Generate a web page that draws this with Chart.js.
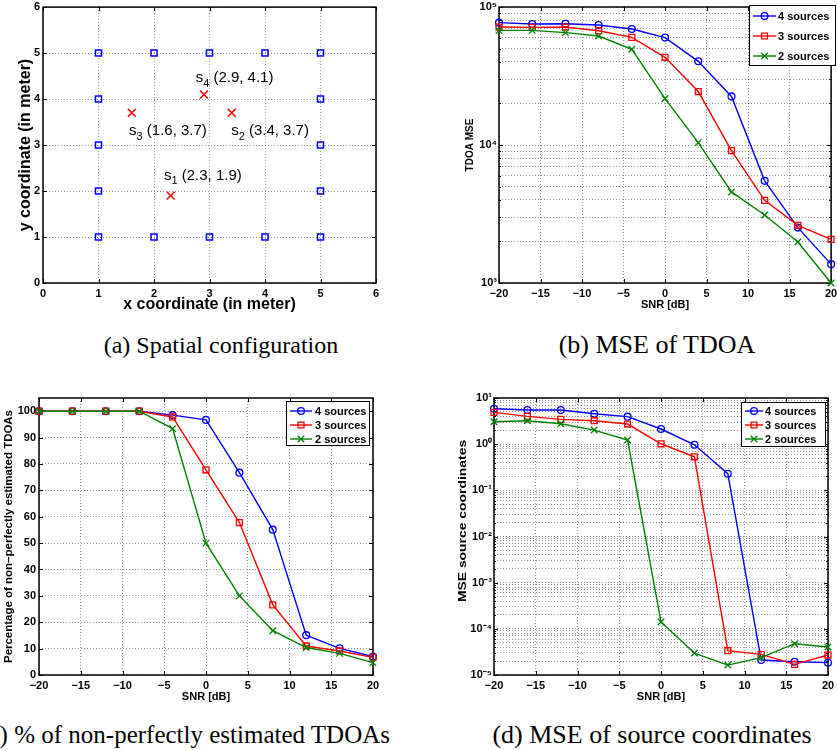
<!DOCTYPE html>
<html><head><meta charset="utf-8">
<script src="https://cdn.jsdelivr.net/npm/chart.js"></script>
<style>
html,body{margin:0;padding:0;background:#fff;}
body{width:837px;height:750px;overflow:hidden;position:relative;}
.pane{position:absolute;}
.cap{position:absolute;font-family:"Liberation Serif","Times New Roman",serif;font-size:25px;white-space:nowrap;color:#000;line-height:30px;height:30px;}
</style></head><body>
<div class="pane" style="left:0;top:0"><canvas id="ca" width="420" height="320"></canvas></div>
<div class="pane" style="left:420px;top:0"><canvas id="cb" width="417" height="320"></canvas></div>
<div class="pane" style="left:0;top:390px"><canvas id="cc" width="420" height="320"></canvas></div>
<div class="pane" style="left:420px;top:390px"><canvas id="cd" width="417" height="320"></canvas></div>
<div class="cap" id="capA" style="left:0;width:442px;text-align:center;top:330px;font-size:24px">(a) Spatial configuration</div>
<div class="cap" id="capB" style="left:420px;width:474px;text-align:center;top:330px;font-size:26px">(b) MSE of TDOA</div>
<div class="cap" id="capC" style="right:447px;text-align:right;top:720px">(c) % of non-perfectly estimated TDOAs</div>
<div class="cap" id="capD" style="left:420px;width:464px;text-align:center;top:720px;font-size:26px">(d) MSE of source coordinates</div>
<script>
// ---------------- data ----------------
const snr = [-20, -16, -12, -8, -4, 0, 4, 8, 12, 16, 20];
const seriesNames = ['4 sources', '3 sources', '2 sources'];

const tdoaMse4 = [77000, 75300, 75700, 74000, 69300, 60000, 40400, 22500, 5500, 2520, 1370];
const tdoaMse3 = [71600, 71200, 71600, 67300, 60300, 43200, 24400, 9100, 3970, 2620, 2070];
const tdoaMse2 = [67700, 67700, 65200, 61600, 49400, 21700, 10400, 4570, 3110, 1980, 1000];

const pct4 = [100, 100, 100, 100, 98.5, 96.7, 76.7, 55.1, 15.1, 10.1, 7.0];
const pct3 = [100, 100, 100, 100, 97.8, 77.8, 57.8, 26.6, 11.0, 9.1, 6.7];
const pct2 = [100, 100, 100, 100, 93.4, 50.0, 30.0, 16.8, 10.4, 8.2, 4.7];

const mse4 = [5.87, 5.49, 5.49, 4.57, 3.94, 2.13, 0.97, 0.229, 2.11e-5, 1.94e-5, 1.85e-5];
const mse3 = [4.89, 4.0, 3.44, 3.22, 2.73, 1.02, 0.533, 3.36e-5, 2.8e-5, 1.7e-5, 2.71e-5];
const mse2 = [3.07, 3.22, 2.77, 2.02, 1.23, 1.41e-4, 2.99e-5, 1.64e-5, 2.37e-5, 4.76e-5, 4.04e-5];

const sensorX = [1, 1, 1, 1, 1, 5, 5, 5, 5, 5, 2, 3, 4, 2, 3, 4];
const sensorY = [1, 2, 3, 4, 5, 1, 2, 3, 4, 5, 1, 1, 1, 5, 5, 5];
const sourceIdx = [1, 2, 3, 4];
const sourceX = [2.3, 3.4, 1.6, 2.9];
const sourceY = [1.9, 3.7, 3.7, 4.1];

const spaceTicks = [0, 1, 2, 3, 4, 5, 6];
const snrTicks = [-20, -15, -10, -5, 0, 5, 10, 15, 20];
const pctTicks = [0, 10, 20, 30, 40, 50, 60, 70, 80, 90, 100];

// ---------------- helpers ----------------
const FONT = '"Liberation Sans", Arial, Helvetica, sans-serif';
const GRID = 'rgba(0,0,0,0.42)';
const SUP = {'0':'⁰','1':'¹','2':'²','3':'³','4':'⁴','5':'⁵','6':'⁶','7':'⁷','8':'⁸','9':'⁹','-':'⁻'};
const minus = v => String(v).replace('-', '\u2212');
function logTickList(e0, e1) {
  const out = [];
  for (let e = e0; e < e1; e++) for (let m = 1; m <= 9; m++) out.push({value: m * Math.pow(10, e), minor: m !== 1});
  out.push({value: Math.pow(10, e1), minor: false});
  return out;
}
function powLabel(v) {
  const e = Math.round(Math.log10(v));
  if (Math.abs(Math.log10(v) - e) > 1e-6) return '';
  return '10' + String(e).split('').map(c => SUP[c]).join('');
}
const fixX = h => s => { s.height = h; s.paddingLeft = 0; s.paddingRight = 0; s.paddingTop = 0; s.paddingBottom = 0; };
const fixY = w => s => { s.width = w; s.paddingLeft = 0; s.paddingRight = 0; s.paddingTop = 0; s.paddingBottom = 0; };

const framePlugin = {
  id: 'frame',
  beforeDatasetsDraw(chart) {
    const {ctx, chartArea: a} = chart;
    const xs = chart.scales.x, ys = chart.scales.y;
    ctx.save();
    ctx.strokeStyle = '#000';
    ctx.lineWidth = 1;
    ctx.beginPath();
    xs.ticks.forEach(t => {
      const p = Math.round(xs.getPixelForValue(t.value)) + 0.5;
      const L = t.minor ? 2 : 4;
      ctx.moveTo(p, a.bottom); ctx.lineTo(p, a.bottom - L);
      ctx.moveTo(p, a.top); ctx.lineTo(p, a.top + L);
    });
    ys.ticks.forEach(t => {
      const p = Math.round(ys.getPixelForValue(t.value)) + 0.5;
      const L = t.minor ? 2 : 4;
      ctx.moveTo(a.left, p); ctx.lineTo(a.left + L, p);
      ctx.moveTo(a.right, p); ctx.lineTo(a.right - L, p);
    });
    ctx.stroke();
    ctx.lineWidth = 1.5;
    ctx.strokeRect(a.left, a.top, a.right - a.left, a.bottom - a.top);
    ctx.restore();
  }
};

const yTitlePlugin = {
  id: 'yTitle',
  afterDraw(chart, args, o) {
    const {ctx, chartArea: a} = chart;
    ctx.save();
    const cy = (o.y !== undefined) ? o.y : (a.top + a.bottom) / 2;
    ctx.translate(o.x, cy);
    ctx.rotate(-Math.PI / 2);
    ctx.scale(o.stretch || 1, 1);
    ctx.font = `bold ${o.size}px ${FONT}`;
    ctx.textAlign = 'center';
    ctx.textBaseline = 'middle';
    ctx.fillStyle = '#000';
    ctx.fillText(o.text, 0, 0);
    ctx.restore();
  }
};

function drawMarker(ctx, style, r, x, y) {
  ctx.beginPath();
  if (style === 'circle') {
    ctx.arc(x, y, r, 0, Math.PI * 2);
  } else if (style === 'rect') {
    const s = r * Math.SQRT1_2;
    ctx.rect(x - s, y - s, 2 * s, 2 * s);
  } else {
    const s = r * Math.SQRT1_2;
    ctx.moveTo(x - s, y - s); ctx.lineTo(x + s, y + s);
    ctx.moveTo(x - s, y + s); ctx.lineTo(x + s, y - s);
  }
  ctx.stroke();
}

const boxLegend = {
  id: 'boxLegend',
  afterDatasetsDraw(chart, args, o) {
    const ctx = chart.ctx;
    ctx.save();
    ctx.fillStyle = '#fff';
    ctx.fillRect(o.x0, o.y0, o.x1 - o.x0, o.y1 - o.y0);
    ctx.strokeStyle = '#000';
    ctx.lineWidth = 1;
    ctx.strokeRect(o.x0 + 0.5, o.y0 + 0.5, o.x1 - o.x0 - 1, o.y1 - o.y0 - 1);
    chart.data.datasets.forEach((d, i) => {
      const y = o.rows[i];
      ctx.strokeStyle = d.borderColor;
      ctx.lineWidth = d.borderWidth;
      ctx.beginPath(); ctx.moveTo(o.l0, y); ctx.lineTo(o.l1, y); ctx.stroke();
      ctx.lineWidth = d.pointBorderWidth;
      drawMarker(ctx, d.pointStyle, d.pointRadius, (o.l0 + o.l1) / 2, y);
      ctx.fillStyle = '#000';
      ctx.font = `bold 11px ${FONT}`;
      ctx.textAlign = 'left';
      ctx.textBaseline = 'middle';
      ctx.fillText(d.label, o.tx, y + 0.5);
    });
    ctx.restore();
  }
};

const srcLabels = {
  id: 'srcLabels',
  afterDatasetsDraw(chart, args, o) {
    const {ctx} = chart;
    const xs = chart.scales.x, ys = chart.scales.y;
    ctx.save();
    ctx.fillStyle = '#000';
    ctx.textBaseline = 'middle';
    ctx.textAlign = 'left';
    sourceX.forEach((sx, i) => {
      const px = xs.getPixelForValue(sx + o.dx[i]);
      const py = ys.getPixelForValue(sourceY[i] + o.dy[i]);
      ctx.font = `15px ${FONT}`;
      ctx.fillText('s', px, py);
      let w = ctx.measureText('s').width;
      ctx.font = `11px ${FONT}`;
      ctx.fillText(String(sourceIdx[i]), px + w, py + 6);
      w += ctx.measureText(String(sourceIdx[i])).width;
      ctx.font = `15px ${FONT}`;
      ctx.fillText(` (${sx.toFixed(1)}, ${sourceY[i].toFixed(1)})`, px + w, py);
    });
    ctx.restore();
  }
};

const tickFont = {family: FONT, weight: 'bold', size: 11};
const STY = [
  {color: '#0000ff', pointStyle: 'circle', r: 3.4},
  {color: '#ff0000', pointStyle: 'rect', r: 4.2},
  {color: '#008000', pointStyle: 'crossRot', r: 4.6}
];
function seriesSets(arrs) {
  return arrs.map((arr, i) => ({
    label: seriesNames[i],
    data: snr.map((x, j) => ({x, y: arr[j]})),
    borderColor: STY[i].color,
    backgroundColor: 'rgba(0,0,0,0)',
    borderWidth: 1.4,
    pointStyle: STY[i].pointStyle,
    pointRadius: STY[i].r,
    pointBorderWidth: 1.3,
    pointBorderColor: STY[i].color,
    pointBackgroundColor: 'rgba(0,0,0,0)',
    tension: 0,
    clip: false,
    order: 2 - i
  }));
}
function snrX(h, titlePad) {
  return {
    type: 'linear', min: -20, max: 20,
    afterBuildTicks: s => { s.ticks = snrTicks.map(v => ({value: v})); },
    afterFit: fixX(h),
    grid: {color: GRID, lineWidth: 1, drawTicks: false},
    border: {display: false, dash: [1, 2]},
    ticks: {autoSkip: false, maxRotation: 0, padding: 4, color: '#000', font: tickFont, callback: v => minus(v)},
    title: {display: true, text: 'SNR [dB]', color: '#000', font: {family: FONT, weight: 'bold', size: 11, lineHeight: 1}, padding: {top: 0, bottom: titlePad}}
  };
}
function logY(w, e0, e1) {
  return {
    type: 'logarithmic', min: Math.pow(10, e0), max: Math.pow(10, e1),
    afterBuildTicks: s => { s.ticks = logTickList(e0, e1); },
    afterFit: fixY(w),
    grid: {color: GRID, lineWidth: 1, drawTicks: false},
    border: {display: false, dash: [1, 2]},
    ticks: {autoSkip: false, padding: 2, color: '#000', font: tickFont, callback: v => powLabel(v)}
  };
}
function baseOptions(padding, scales, plugins) {
  return {
    responsive: false, animation: false, events: [],
    layout: {padding},
    scales,
    plugins: Object.assign({legend: {display: false}, tooltip: {enabled: false}}, plugins)
  };
}

// ---------------- (a) spatial configuration ----------------
new Chart(document.getElementById('ca'), {
  type: 'scatter',
  data: {datasets: [
    {label: 'sources', data: sourceX.map((x, i) => ({x, y: sourceY[i]})), pointStyle: 'crossRot', pointRadius: 5.6,
     pointBorderWidth: 1.5, pointBorderColor: '#ff0000', pointBackgroundColor: 'rgba(0,0,0,0)', showLine: false, clip: false},
    {label: 'sensors', data: sensorX.map((x, i) => ({x, y: sensorY[i]})), pointStyle: 'rect', pointRadius: 4.3,
     pointBorderWidth: 1.5, pointBorderColor: '#0000ff', pointBackgroundColor: 'rgba(0,0,0,0)', showLine: false, clip: false}
  ]},
  options: baseOptions({left: 0, top: 6, right: 44, bottom: 0}, {
    x: {type: 'linear', min: 0, max: 6,
        afterBuildTicks: s => { s.ticks = spaceTicks.map(v => ({value: v})); },
        afterFit: fixX(37),
        grid: {color: GRID, lineWidth: 1, drawTicks: false},
        border: {display: false, dash: [1, 2]},
        ticks: {autoSkip: false, maxRotation: 0, padding: 4, color: '#000', font: tickFont},
        title: {display: true, text: 'x coordinate (in meter)', color: '#000', font: {family: FONT, weight: 'bold', size: 16, lineHeight: 1}, padding: {top: 0, bottom: 7}}},
    y: {type: 'linear', min: 0, max: 6,
        afterBuildTicks: s => { s.ticks = spaceTicks.map(v => ({value: v})); },
        afterFit: fixY(43),
        grid: {color: GRID, lineWidth: 1, drawTicks: false},
        border: {display: false, dash: [1, 2]},
        ticks: {autoSkip: false, padding: 3, color: '#000', font: tickFont}}
  }, {
    yTitle: {text: 'y coordinate (in meter)', x: 26, size: 16, stretch: 1},
    srcLabels: {dx: [-0.12, -0.01, -0.05, -0.15], dy: [0.44, -0.39, -0.39, 0.36]}
  }),
  plugins: [framePlugin, yTitlePlugin, srcLabels]
});

// ---------------- (b) MSE of TDOA ----------------
new Chart(document.getElementById('cb'), {
  type: 'line',
  data: {datasets: seriesSets([tdoaMse4, tdoaMse3, tdoaMse2])},
  options: baseOptions({left: 0, top: 7, right: 5, bottom: 0}, {
    x: snrX(37, 9.5),
    y: logY(79, 3, 5)
  }, {
    yTitle: {text: 'TDOA MSE', x: 50, size: 10, stretch: 1},
    boxLegend: {x0: 329, y0: 5, x1: 416, y1: 66, rows: [16, 36, 56], l0: 333, l1: 356, tx: 358}
  }),
  plugins: [framePlugin, yTitlePlugin, boxLegend]
});

// ---------------- (c) % non-perfectly estimated ----------------
new Chart(document.getElementById('cc'), {
  type: 'line',
  data: {datasets: seriesSets([pct4, pct3, pct2])},
  options: baseOptions({left: 0, top: 8, right: 47, bottom: 0}, {
    x: snrX(35, 7.5),
    y: {type: 'linear', min: 0, max: 105,
        afterBuildTicks: s => { s.ticks = pctTicks.map(v => ({value: v})); },
        afterFit: fixY(39),
        grid: {color: GRID, lineWidth: 1, drawTicks: false},
        border: {display: false, dash: [1, 2]},
        ticks: {autoSkip: false, padding: 3, color: '#000', font: tickFont}}
  }, {
    yTitle: {text: 'Percentage of non\u2212perfectly estimated TDOAs', x: 9.5, size: 10, stretch: 1.145},
    boxLegend: {x0: 286, y0: 11, x1: 370, y1: 56, rows: [21, 35, 49], l0: 290, l1: 312, tx: 315}
  }),
  plugins: [framePlugin, yTitlePlugin, boxLegend]
});

// ---------------- (d) MSE of source coordinates ----------------
new Chart(document.getElementById('cd'), {
  type: 'line',
  data: {datasets: seriesSets([mse4, mse3, mse2])},
  options: baseOptions({left: 0, top: 8, right: 9, bottom: 0}, {
    x: snrX(35, 7.5),
    y: logY(74, -5, 1)
  }, {
    yTitle: {text: 'MSE source coordinates', x: 43, y: 131, size: 10, stretch: 1.39},
    boxLegend: {x0: 321, y0: 12, x1: 406, y1: 57, rows: [21, 35, 49], l0: 325, l1: 343, tx: 345}
  }),
  plugins: [framePlugin, yTitlePlugin, boxLegend]
});
</script>
</body></html>
